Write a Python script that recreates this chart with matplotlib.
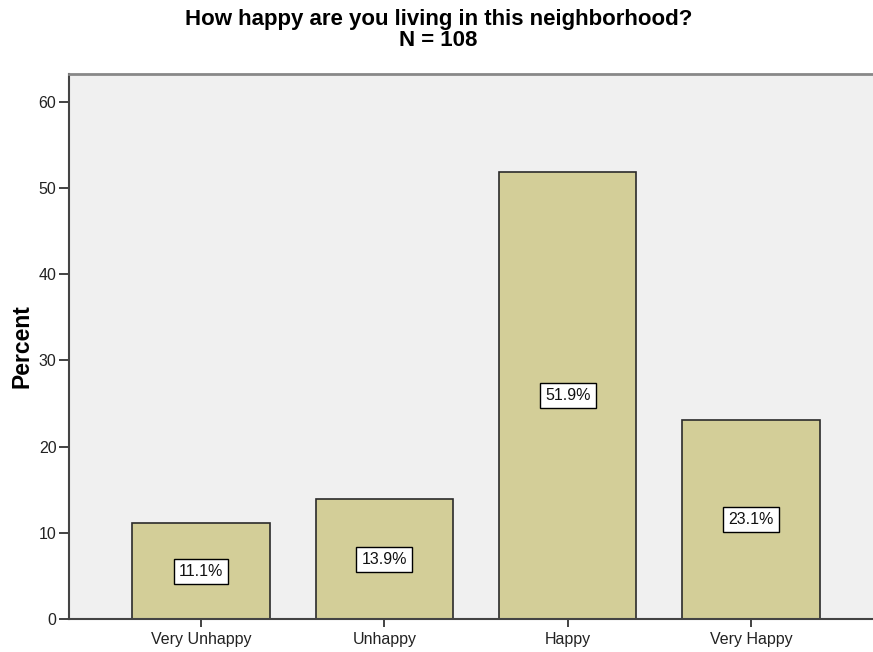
import matplotlib.pyplot as plt
import numpy as np

plt.rcParams['font.family'] = ['Liberation Sans', 'DejaVu Sans']

# Data
categories = ["Very Unhappy", "Unhappy", "Happy", "Very Happy"]
percents = [11.1, 13.9, 51.9, 23.1]
n_total = 108
title = "How happy are you living in this neighborhood?"

fig = plt.figure(figsize=(8.73, 6.52), dpi=100)
ax = fig.add_axes([0.079, 0.0506, 0.921, 0.836])
ax.set_facecolor("#F0F0F0")

x = np.arange(len(categories))
ax.bar(x, percents, width=0.75, color="#D3CE98", edgecolor="#2b2b2b", linewidth=1.2, zorder=2)

# Value labels in white boxes at half bar height
for xi, p in zip(x, percents):
    ax.text(xi, p / 2, f"{p:.1f}%", ha="center", va="center", fontsize=11.5, zorder=3,
            color="#111111",
            bbox=dict(boxstyle="square,pad=0.32", facecolor="white", edgecolor="black", linewidth=1))

ax.set_xlim(-0.72, 3.665)
ax.set_ylim(0, 63.25)
ax.set_xticks(x)
ax.set_xticklabels(categories)
ax.set_yticks(np.arange(0, 61, 10))
ax.tick_params(axis='both', labelsize=11.5, direction='out', width=1.2, colors='#222222')
ax.tick_params(axis='y', length=7.5, pad=1.5)
ax.tick_params(axis='x', length=6)

ax.spines['right'].set_visible(False)
ax.spines['left'].set_color("#444444")
ax.spines['left'].set_linewidth(1.5)
ax.spines['bottom'].set_color("#444444")
ax.spines['bottom'].set_linewidth(1.5)
ax.spines['top'].set_color("#888888")
ax.spines['top'].set_linewidth(2)

ax.set_ylabel("Percent", fontsize=16.5, fontweight="bold", labelpad=4)

# Two-line title
fig.text(0.502, 1 - 20 / 652, title, ha="center", va="center", fontsize=16, fontweight="bold")
fig.text(0.502, 1 - 41 / 652, "N = " + str(n_total), ha="center", va="center",
         fontsize=16, fontweight="bold")

fig.savefig("out.png", dpi=100)
